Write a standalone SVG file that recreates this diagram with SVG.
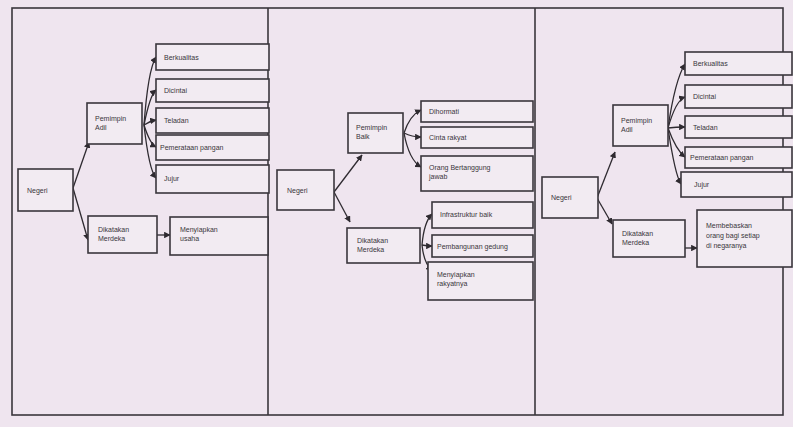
<svg xmlns="http://www.w3.org/2000/svg" width="793" height="427" viewBox="0 0 793 427">
<defs>
<marker id="ah" viewBox="0 0 10 10" refX="9" refY="5" markerWidth="5" markerHeight="5" orient="auto">
<path d="M0,0 L10,5 L0,10 z" fill="#2e2a30"/>
</marker>
<style>
.bg{fill:#efe5ef}
.frame{fill:none;stroke:#3a363c;stroke-width:1.6}
.box{fill:#f2ebf2;stroke:#3a363c;stroke-width:1.6}
.t{font-family:"Liberation Sans",Arial,sans-serif;font-size:7px;fill:#3a363c}
.c{fill:none;stroke:#2e2a30;stroke-width:1.3;marker-end:url(#ah)}
</style>
</defs>
<rect class="bg" x="0" y="0" width="793" height="427"/>
<g id="frame">
<rect class="frame" x="12" y="8" width="771" height="407"/>
<line class="frame" x1="268" y1="8" x2="268" y2="415"/>
<line class="frame" x1="535" y1="8" x2="535" y2="415"/>
</g>
<g id="connectors">
<!-- panel 1 -->
<path class="c" d="M73,188 L89,142"/>
<path class="c" d="M73,188 L88,240"/>
<path class="c" d="M144,125 Q148,70 156,57"/>
<path class="c" d="M144,125 Q150,95 156,90"/>
<path class="c" d="M144,125 Q150,121 156,120"/>
<path class="c" d="M144,125 Q150,144 156,147"/>
<path class="c" d="M144,125 Q149,170 156,178"/>
<path class="c" d="M157,235 L170,235"/>
<!-- panel 2 -->
<path class="c" d="M334,192 L362,155"/>
<path class="c" d="M334,192 L350,222"/>
<path class="c" d="M404,133 Q410,115 421,110"/>
<path class="c" d="M404,133 Q412,137 421,137"/>
<path class="c" d="M404,133 Q409,160 421,167"/>
<path class="c" d="M422,245 Q424,222 432,214"/>
<path class="c" d="M422,245 Q427,246 432,246"/>
<path class="c" d="M422,245 Q424,264 432,270"/>
<!-- panel 3 -->
<path class="c" d="M597,198 L615,152"/>
<path class="c" d="M597,198 L612,224"/>
<path class="c" d="M668,128 Q675,80 685,64"/>
<path class="c" d="M668,128 Q676,100 685,97"/>
<path class="c" d="M668,128 Q676,127 685,127"/>
<path class="c" d="M668,128 Q676,150 685,157"/>
<path class="c" d="M668,128 Q675,175 681,184"/>
<path class="c" d="M685,248 L697,248"/>
</g>
<!-- panel 1 nodes -->
<g id="p1-negeri"><rect class="box" x="18" y="169" width="55" height="42"/><text class="t" x="27" y="193">Negeri</text></g>
<g id="p1-pemimpin"><rect class="box" x="87" y="103" width="55" height="41"/><text class="t" x="95" y="121">Pemimpin</text><text class="t" x="95" y="130">Adil</text></g>
<g id="p1-berkualitas"><rect class="box" x="156" y="44" width="113" height="26"/><text class="t" x="164" y="60">Berkualitas</text></g>
<g id="p1-dicintai"><rect class="box" x="156" y="79" width="113" height="23"/><text class="t" x="164" y="93">Dicintai</text></g>
<g id="p1-teladan"><rect class="box" x="156" y="108" width="113" height="25"/><text class="t" x="164" y="123">Teladan</text></g>
<g id="p1-pemerataan"><rect class="box" x="156" y="135" width="113" height="25"/><text class="t" x="160" y="150">Pemerataan pangan</text></g>
<g id="p1-jujur"><rect class="box" x="156" y="165" width="113" height="28"/><text class="t" x="164" y="181">Jujur</text></g>
<g id="p1-dikatakan"><rect class="box" x="88" y="216" width="69" height="37"/><text class="t" x="98" y="232">Dikatakan</text><text class="t" x="98" y="241">Merdeka</text></g>
<g id="p1-menyiapkan"><rect class="box" x="170" y="217" width="98" height="38"/><text class="t" x="180" y="232">Menyiapkan</text><text class="t" x="180" y="241">usaha</text></g>
<!-- panel 2 nodes -->
<g id="p2-negeri"><rect class="box" x="277" y="170" width="57" height="40"/><text class="t" x="287" y="193">Negeri</text></g>
<g id="p2-pemimpin"><rect class="box" x="348" y="113" width="55" height="40"/><text class="t" x="356" y="130">Pemimpin</text><text class="t" x="356" y="139">Baik</text></g>
<g id="p2-dihormati"><rect class="box" x="421" y="101" width="112" height="21"/><text class="t" x="429" y="114">Dihormati</text></g>
<g id="p2-cinta"><rect class="box" x="421" y="127" width="112" height="21"/><text class="t" x="429" y="140">Cinta rakyat</text></g>
<g id="p2-orang"><rect class="box" x="421" y="156" width="112" height="35"/><text class="t" x="429" y="170">Orang Bertanggung</text><text class="t" x="429" y="179">jawab</text></g>
<g id="p2-dikatakan"><rect class="box" x="347" y="228" width="73" height="35"/><text class="t" x="357" y="243">Dikatakan</text><text class="t" x="357" y="252">Merdeka</text></g>
<g id="p2-infra"><rect class="box" x="432" y="202" width="101" height="26"/><text class="t" x="440" y="217">Infrastruktur baik</text></g>
<g id="p2-gedung"><rect class="box" x="432" y="235" width="101" height="22"/><text class="t" x="437" y="249">Pembangunan gedung</text></g>
<g id="p2-rakyat"><rect class="box" x="428" y="262" width="105" height="38"/><text class="t" x="437" y="277">Menyiapkan</text><text class="t" x="437" y="286">rakyatnya</text></g>
<!-- panel 3 nodes -->
<g id="p3-negeri"><rect class="box" x="542" y="177" width="56" height="41"/><text class="t" x="551" y="200">Negeri</text></g>
<g id="p3-pemimpin"><rect class="box" x="613" y="105" width="55" height="41"/><text class="t" x="621" y="123">Pemimpin</text><text class="t" x="621" y="132">Adil</text></g>
<g id="p3-berkualitas"><rect class="box" x="685" y="52" width="107" height="23"/><text class="t" x="693" y="66">Berkualitas</text></g>
<g id="p3-dicintai"><rect class="box" x="685" y="85" width="107" height="23"/><text class="t" x="693" y="99">Dicintai</text></g>
<g id="p3-teladan"><rect class="box" x="685" y="116" width="107" height="22"/><text class="t" x="693" y="130">Teladan</text></g>
<g id="p3-pemerataan"><rect class="box" x="685" y="147" width="107" height="21"/><text class="t" x="690" y="160">Pemerataan pangan</text></g>
<g id="p3-jujur"><rect class="box" x="681" y="172" width="111" height="25"/><text class="t" x="694" y="187">Jujur</text></g>
<g id="p3-dikatakan"><rect class="box" x="613" y="220" width="72" height="37"/><text class="t" x="622" y="236">Dikatakan</text><text class="t" x="622" y="245">Merdeka</text></g>
<g id="p3-membebaskan"><rect class="box" x="697" y="210" width="95" height="57"/><text class="t" x="706" y="228">Membebaskan</text><text class="t" x="706" y="238">orang bagi setiap</text><text class="t" x="706" y="248">di negaranya</text></g>
</svg>
